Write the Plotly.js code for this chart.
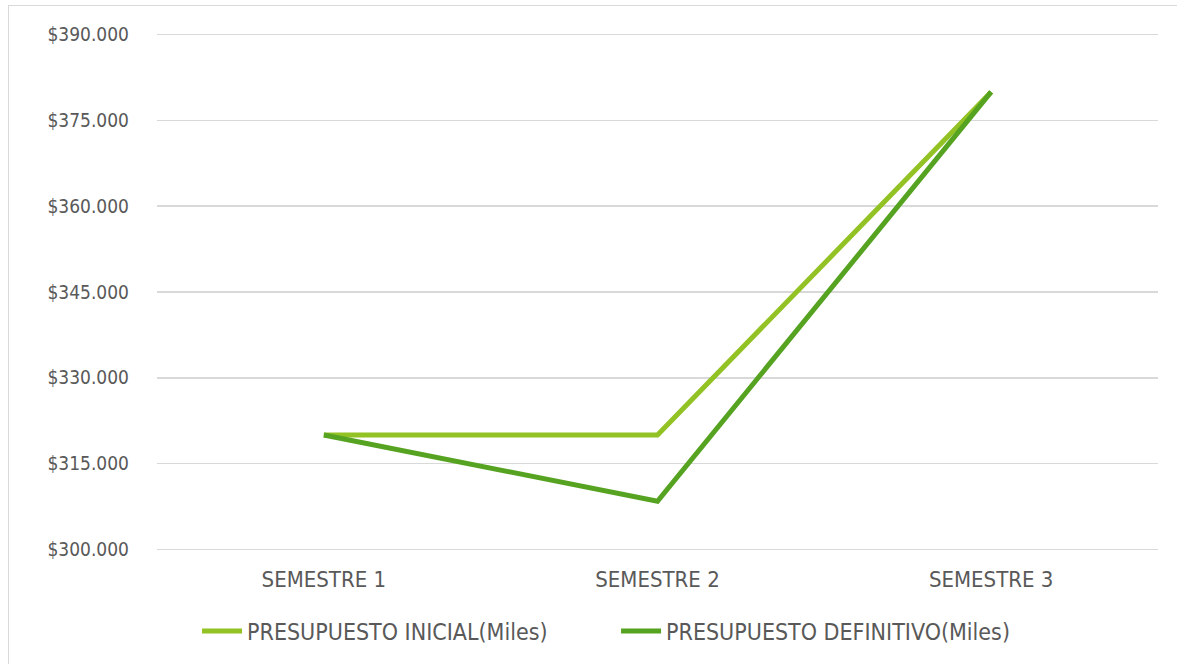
<!DOCTYPE html>
<html>
<head>
<meta charset="utf-8">
<script src="https://cdn.plot.ly/plotly-3.0.1.min.js"></script>
<style>
html,body{margin:0;padding:0;background:#fff;}
#wrap{position:relative;width:1177px;height:664px;overflow:hidden;}
#chart{width:1177px;height:664px;}
#frame{position:absolute;left:8px;top:5px;width:1200px;height:700px;border:1.5px solid #d9d9d9;pointer-events:none;box-sizing:border-box;}
</style>
</head>
<body>
<div id="wrap">
<div id="chart"></div>
<div id="frame"></div>
</div>
<script>
const categories = ["SEMESTRE 1", "SEMESTRE 2", "SEMESTRE 3"];
const seriesNames = ["PRESUPUESTO INICIAL(Miles)", "PRESUPUESTO DEFINITIVO(Miles)"];
const inicial = [320000, 320000, 380000];
const definitivo = [320000, 308400, 380000];
const yTicks = [300000, 315000, 330000, 345000, 360000, 375000, 390000];
const yTickText = yTicks.map(v => "$" + String(v / 1000) + ".000");

const colors = ["#93C225", "#56A321"];
const traces = [
  {x: categories, y: inicial, name: seriesNames[0], type: "scatter", mode: "lines",
   line: {color: colors[0], width: 5}},
  {x: categories, y: definitivo, name: seriesNames[1], type: "scatter", mode: "lines",
   line: {color: colors[1], width: 5}}
];
const fam = "DejaVu Sans Condensed, DejaVu Sans, sans-serif";
const xfont = {family: fam, color: "#595959", size: 22};
const yfont = {family: fam, color: "#595959", size: 19};
const lfont = {family: fam, color: "#595959", size: 23};
// small pad so the edge gridlines are drawn
const pad = 300;
const layout = {
  width: 1177, height: 664,
  margin: {l: 157, r: 19, t: 35 - 2, b: 115 - 2, autoexpand: false},
  paper_bgcolor: "#fff", plot_bgcolor: "#fff",
  font: xfont,
  showlegend: true,
  legend: {orientation: "h", x: 0.04, xanchor: "left", y: -0.113, yanchor: "top",
           font: lfont, itemwidth: 40, entrywidth: 364, entrywidthmode: "pixels",
           traceorder: "normal"},
  xaxis: {type: "category", range: [-0.5, 2.5], showgrid: false, zeroline: false,
          showline: false, ticks: "", tickfont: xfont, ticklabelstandoff: 13},
  yaxis: {range: [300000 - pad, 390000 + pad], tickmode: "array", tickvals: yTicks, ticktext: yTickText,
          showgrid: true, gridcolor: "#d9d9d9", gridwidth: 1.5, zeroline: false,
          showline: false, ticks: "", tickfont: yfont, ticklabelstandoff: 27}
};
Plotly.newPlot("chart", traces, layout, {displayModeBar: false, staticPlot: true});
</script>
</body>
</html>
